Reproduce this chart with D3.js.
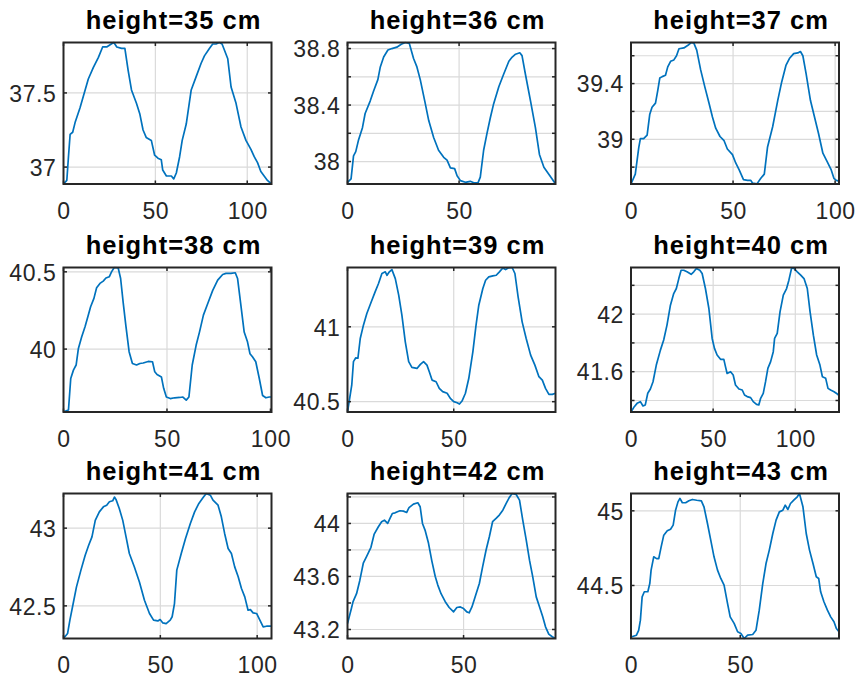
<!DOCTYPE html>
<html><head><meta charset="utf-8">
<script src="https://cdn.jsdelivr.net/npm/d3@7"></script>
<style>
body{margin:0;background:#fff;}
svg{display:block;}
text{font-family:"Liberation Sans",Arial,Helvetica,sans-serif;}
</style></head>
<body><svg id="chart" width="861" height="679"></svg>
<script>
// ---------- DATA ----------
const titles = ["height=35 cm","height=36 cm","height=37 cm","height=38 cm","height=39 cm","height=40 cm","height=41 cm","height=42 cm","height=43 cm"];

const x35 = [0,1.8,2.7,3.6,5,6.3,9,11.7,13.5,16.2,19,21.3,23.5,26,27.4,29,31.6,33.4,35.2,37,39.7,41.5,43.3,45,47.8,49.6,51.4,53.2,54,56,58.7,60,61.4,63.2,64.6,66.8,69.5,72.2,74.9,76.7,79.4,81.2,83,84.8,86.3,89.4,91.2,93.9,96.6,99.3,102,103.8,105.6,107.4,109.2,111,113.2];
const y35 = [36.886,36.91,37.07,37.22,37.235,37.30,37.40,37.516,37.594,37.67,37.74,37.81,37.81,37.83,37.84,37.81,37.80,37.80,37.65,37.52,37.43,37.36,37.25,37.20,37.18,37.08,37.06,37.05,36.98,36.94,36.94,36.92,36.96,37.07,37.18,37.29,37.52,37.61,37.70,37.75,37.80,37.83,37.83,37.84,37.83,37.73,37.54,37.43,37.27,37.18,37.12,37.07,37.03,36.97,36.94,36.91,36.886];

const x36 = [0,1.6,2.7,3.7,4.9,6.7,7.9,10.2,11.7,13.6,14.7,16.2,18.1,19.9,22.1,24.1,25.9,27.7,29.6,31.1,32.6,34.6,36.4,38.6,40.8,43.1,44.6,46.1,48,49.1,50.6,52.8,55,56.6,58.5,59.5,61,62.5,64,65.5,67.8,70,72.3,73.8,75.3,77.2,78.2,79.7,82,84.2,86,88,90.2,91.7,93.2];
const y36 = [37.853,37.877,38.04,38.07,38.15,38.24,38.34,38.43,38.50,38.58,38.67,38.74,38.79,38.80,38.81,38.83,38.843,38.836,38.73,38.67,38.58,38.43,38.29,38.17,38.08,38.03,38.01,37.955,37.95,37.90,37.865,37.853,37.86,37.85,37.851,37.89,38.08,38.20,38.31,38.41,38.53,38.62,38.71,38.74,38.76,38.77,38.75,38.62,38.43,38.24,38.05,37.96,37.91,37.877,37.841];

const x37 = [0,2.1,3.8,4.6,6.2,7.9,9.2,10.3,12,13.1,14.1,15.3,16.9,18,19.4,21,22.3,23.5,25.9,27.9,29.5,30.8,32.2,34.1,36.1,38.2,39.9,41.5,43.6,45.6,47.2,49.7,51.3,53,55.1,57.1,58.7,59.5,61.7,63.6,65.3,66.9,69.4,71.9,73.8,75.9,77.6,79.7,81.7,83,84.2,85.8,87.9,89.9,91.9,94,96.1,98.1,99.4,100.6,101.9];
const y37 = [38.679,38.75,38.94,39.005,39.005,39.03,39.18,39.23,39.26,39.35,39.44,39.45,39.46,39.52,39.56,39.57,39.60,39.65,39.656,39.675,39.695,39.69,39.64,39.50,39.38,39.26,39.16,39.08,39.02,38.99,38.93,38.89,38.83,38.78,38.71,38.705,38.705,38.686,38.68,38.72,38.75,38.945,39.09,39.28,39.41,39.53,39.58,39.615,39.62,39.63,39.60,39.47,39.28,39.16,39.04,38.90,38.84,38.78,38.72,38.705,38.70];

const x38 = [0,2.4,3.5,4.8,6.1,7.2,8.8,10.4,12,13.1,14.7,16,17.6,19.2,20.5,22.1,23.2,24.5,26.4,27.6,28.8,30.1,31.7,33.3,35.3,36.9,38.5,40.9,43,44.1,45.2,47.3,48.4,49.7,51.6,53.7,56.1,57.7,59.3,60.6,62.2,64.1,65.7,67.6,69.7,72.1,74.5,76.9,78.5,80.9,83,84.1,85.7,87.3,88.9,90.1,91.3,92.9,94.6,96.2,97.8,99.4,100.5];
const y38 = [39.595,39.606,39.81,39.864,39.897,40.004,40.08,40.144,40.22,40.274,40.328,40.397,40.425,40.44,40.46,40.468,40.50,40.528,40.526,40.457,40.306,40.155,39.983,39.907,39.897,39.907,39.91,39.92,39.918,39.853,39.836,39.82,39.746,39.69,39.68,39.685,39.687,39.69,39.67,39.69,39.897,40.026,40.11,40.22,40.295,40.38,40.446,40.483,40.49,40.49,40.494,40.457,40.284,40.11,40.047,39.97,39.95,39.918,39.81,39.70,39.685,39.69,39.69];

const x39 = [0,2,2.8,3.9,4.9,6,7.5,9.1,11.2,13,14.6,16.2,17.8,18.6,19.7,20.9,22.5,24.1,25.6,27.2,28.8,30.3,32.7,34.3,35.8,37.4,38.5,39.8,41.7,43.2,44.8,46.9,48.4,50,51.6,52.7,53.9,55.5,57.1,59,60.5,61.8,63.7,65,66.5,68.4,70,71.5,73.1,74.4,75.6,77.5,78.8,80.3,82.2,84.1,86.2,88.2,90.1,91.7,93.2,94.8,96.4,97.9];
const y39 = [40.431,40.61,40.767,40.793,40.79,40.922,41.011,41.089,41.167,41.233,41.289,41.356,41.367,41.344,41.367,41.382,41.322,41.211,41.078,40.90,40.767,40.729,40.722,40.749,40.767,40.744,40.70,40.644,40.633,40.589,40.567,40.556,40.522,40.50,40.493,40.484,40.504,40.556,40.656,40.833,41.011,41.144,41.256,41.311,41.333,41.34,41.344,41.367,41.393,41.382,41.393,41.396,41.356,41.20,41.033,40.922,40.811,40.744,40.667,40.644,40.589,40.549,40.549,40.556];

const x40 = [0,2,3.7,5.7,7.3,8.7,10.2,11.8,13.4,15.4,17.9,19.9,21.9,24,26,27.6,29.1,30.5,32.1,34.1,36.6,38.2,39.8,41.9,43.3,45.3,47.4,49.4,50.8,52.4,54.5,56.5,57.5,58.5,60.6,62.2,63.6,65.7,67.7,69.1,70.7,72.8,74.4,76.4,77.8,78.9,80.5,81.9,83.3,85,86.6,87.4,89,90.7,92.7,94.7,96.1,97.8,99.2,101.2,103.3,105.3,107.3,109,111,113,115,116.5,118.5,119.9,121.5,123.6,125.6,126.6];
const y40 = [41.32,41.357,41.38,41.392,41.362,41.369,41.45,41.48,41.53,41.646,41.75,41.82,41.924,42.062,42.143,42.178,42.247,42.305,42.305,42.294,42.277,42.294,42.317,42.305,42.282,42.178,42.039,41.831,41.762,41.716,41.686,41.686,41.635,41.588,41.60,41.577,41.508,41.48,41.473,41.438,41.427,41.42,41.392,41.373,41.369,41.415,41.45,41.531,41.623,41.67,41.739,41.831,41.866,42.016,42.132,42.178,42.236,42.322,42.317,42.294,42.271,42.247,42.178,42.016,41.854,41.716,41.646,41.565,41.554,41.484,41.473,41.461,41.445,41.433];

const x41 = [0,2.1,3.3,5,6.7,9,11.2,13,14.7,16.4,18.5,20.6,22.3,23.7,25.4,26.3,27.1,28.8,30.6,32.3,34,36.6,39.2,41.8,44.4,46.5,48.7,49.9,51.3,53,55.1,56.1,57.3,58.5,60.8,63,65.5,67.7,69.9,72,73.7,75.8,77.2,79.8,81.5,83.2,85,86.7,88.4,90.2,91.9,93.6,95.3,96.5,97.9,99.7,101.4,103.1,104.8,106.6,107.4];
const y41 = [42.29,42.322,42.408,42.515,42.622,42.73,42.826,42.89,42.944,43.05,43.105,43.137,43.148,43.17,43.176,43.20,43.185,43.127,43.05,42.944,42.837,42.75,42.654,42.536,42.451,42.408,42.403,42.412,42.39,42.386,42.408,42.43,42.515,42.73,42.837,42.933,43.03,43.105,43.159,43.195,43.223,43.212,43.18,43.148,43.073,42.966,42.869,42.837,42.751,42.687,42.612,42.558,42.472,42.476,42.455,42.451,42.408,42.365,42.369,42.369,42.369];

const x42 = [0,1.7,2.4,3.9,5.3,6.8,8.2,10.1,11.5,13.3,14.7,15.9,17.3,18.3,19.3,20.5,21.5,22.6,24.1,25.5,26.5,28.4,30.3,31.3,32.3,33.4,34.9,36.3,37.8,38.9,40.3,42.1,43.8,45.7,47.1,48.6,50,51.4,52.4,53.6,55,56.8,58.2,59.7,61.1,62.5,64,65.4,66.9,68.3,69.5,70.9,72.6,74.1,75.5,77,78.4,79.8,81.3,82.7,84.1,85.3,86.7,88.2,89.6];
const y42 = [43.245,43.36,43.41,43.47,43.57,43.70,43.75,43.82,43.92,43.975,44.013,44.025,44.0,44.038,44.075,44.08,44.088,44.096,44.093,44.083,44.12,44.146,44.156,44.126,44.0,43.95,43.85,43.72,43.60,43.535,43.47,43.41,43.366,43.333,43.366,43.37,43.358,43.333,43.326,43.37,43.447,43.547,43.673,43.80,43.90,44.013,44.038,44.063,44.10,44.15,44.19,44.226,44.22,44.176,44.025,43.874,43.723,43.597,43.446,43.371,43.296,43.22,43.165,43.145,43.132];

const x43 = [0,2.5,3.5,4.3,5.1,6.1,7.7,8.6,9.2,10.4,11.7,12.7,13.8,15,16.6,18.1,19.3,20.4,21.5,22.4,23.5,25,26.5,28.1,30.1,32.2,33.4,35,36.5,38,39.6,41.1,42.6,44.2,45.4,47.2,48.8,50.3,51.8,53.4,55.7,57.2,58.7,60.3,61.8,63.3,64.9,66.4,67.9,69.5,70.6,71.8,73,74.5,76.1,77.1,78.7,80.2,81.7,83.3,84.8,85.9,86.8,88.3,89.9,91.4,92.9,94,95.2];
const y43 = [44.155,44.167,44.20,44.268,44.424,44.458,44.458,44.513,44.603,44.692,44.68,44.68,44.759,44.837,44.866,44.877,44.904,45.004,45.06,45.083,45.054,45.054,45.067,45.076,45.071,45.067,45.027,44.915,44.804,44.692,44.603,44.547,44.502,44.379,44.29,44.246,44.19,44.179,44.145,44.167,44.172,44.20,44.335,44.513,44.647,44.737,44.848,44.938,44.993,45.004,45.038,45.009,45.049,45.071,45.094,45.116,45.027,44.848,44.737,44.647,44.558,44.547,44.458,44.391,44.335,44.29,44.257,44.212,44.19];

const xData = [x35,x36,x37,x38,x39,x40,x41,x42,x43];
const yData = [y35,y36,y37,y38,y39,y40,y41,y42,y43];

// axis limits (tight)
const xMax = [113.2,93.2,101.9,100.5,97.9,126.6,107.4,89.6,95.2];
const yMin = [36.886,37.841,38.679,39.593,40.431,41.320,42.290,43.132,44.145];
const yMax = [37.840,38.843,39.695,40.528,41.396,42.324,43.223,44.226,45.116];

// tick labels and grid lines
const xTickVals = [0,50,100];
const yTickLabels = [[37,37.5],[38,38.4,38.8],[39,39.4],[40,40.5],[40.5,41],[41.6,42],[42.5,43],[43.2,43.6,44],[44.5,45]];
const yGridVals = [[37,37.5],[37.8,38,38.2,38.4,38.6,38.8],[38.8,39,39.2,39.4,39.6],[40,40.5],[40.5,41],[41.4,41.6,41.8,42,42.2],[42.5,43],[43.2,43.4,43.6,43.8,44,44.2],[44.5,45]];

// ---------- LAYOUT ----------
const colLeft = [63.5, 347.5, 631];
const plotW = 208;
const rowTop = [42.5, 267.5, 493.5];
const rowH = [141.5, 144.5, 145];

const svg = d3.select("#chart");
const axisColor = "#262626";
const gridColor = "#dadada";
const lineColor = "#0072BD";

titles.forEach((t, i) => {
  const r = Math.floor(i / 3), c = i % 3;
  const L = colLeft[c], T = rowTop[r], W = plotW, H = rowH[r];
  const g = svg.append("g").attr("transform", `translate(${L},${T})`);
  const xs = d3.scaleLinear().domain([0, xMax[i]]).range([0, W]);
  const ys = d3.scaleLinear().domain([yMin[i], yMax[i]]).range([H, 0]);

  // grid
  const xg = xTickVals.filter(v => v > 0 && v < xMax[i]);
  g.selectAll(".xg").data(xg).enter().append("line")
    .attr("x1", d => xs(d)).attr("x2", d => xs(d)).attr("y1", 0).attr("y2", H)
    .attr("stroke", gridColor).attr("stroke-width", 1.2);
  const yg = yGridVals[i].filter(v => v > yMin[i] && v < yMax[i]);
  g.selectAll(".yg").data(yg).enter().append("line")
    .attr("x1", 0).attr("x2", W).attr("y1", d => ys(d)).attr("y2", d => ys(d))
    .attr("stroke", gridColor).attr("stroke-width", 1.2);

  // line
  const clipId = "clip" + i;
  g.append("clipPath").attr("id", clipId).append("rect").attr("x", -1).attr("y", -1).attr("width", W + 2).attr("height", H + 2);
  const pts = xData[i].map((x, k) => [x, yData[i][k]]);
  g.append("path").datum(pts)
    .attr("clip-path", `url(#${clipId})`)
    .attr("fill", "none").attr("stroke", lineColor).attr("stroke-width", 1.7)
    .attr("stroke-linejoin", "round")
    .attr("d", d3.line().x(d => xs(d[0])).y(d => ys(d[1])));

  // axes via d3 axis (ticks inside, labels outside)
  const xAxis = d3.axisBottom(xs).tickValues(xTickVals.filter(v => v <= xMax[i] + 0.6)).tickSize(0).tickPadding(30).tickFormat(d3.format("d"));
  const xa = g.append("g").attr("transform", `translate(0,${H})`).call(xAxis);
  const yAxis = d3.axisLeft(ys).tickValues(yTickLabels[i]).tickSize(0).tickPadding(7).tickFormat(d => String(d));
  const ya = g.append("g").call(yAxis);
  [xa, ya].forEach(a => {
    a.select(".domain").remove();
    a.selectAll("text").attr("fill", axisColor).style("font-size", "23px").style("letter-spacing", "0.6px");
  });
  xa.selectAll("text").attr("dy", "0.2em");
  ya.selectAll("text").attr("dy", "0.36em");

  // inner tick marks on all four sides
  const tl = 3.5;
  const xt = xTickVals.filter(v => v >= 0 && v <= xMax[i]);
  xt.forEach(v => {
    g.append("line").attr("x1", xs(v)).attr("x2", xs(v)).attr("y1", H).attr("y2", H - tl).attr("stroke", axisColor).attr("stroke-width", 1.5);
    g.append("line").attr("x1", xs(v)).attr("x2", xs(v)).attr("y1", 0).attr("y2", tl).attr("stroke", axisColor).attr("stroke-width", 1.5);
  });
  yGridVals[i].filter(v => v >= yMin[i] && v <= yMax[i]).forEach(v => {
    g.append("line").attr("x1", 0).attr("x2", tl).attr("y1", ys(v)).attr("y2", ys(v)).attr("stroke", axisColor).attr("stroke-width", 1.5);
    g.append("line").attr("x1", W).attr("x2", W - tl).attr("y1", ys(v)).attr("y2", ys(v)).attr("stroke", axisColor).attr("stroke-width", 1.5);
  });

  // box
  g.append("rect").attr("x", 0).attr("y", 0).attr("width", W).attr("height", H)
    .attr("fill", "none").attr("stroke", axisColor).attr("stroke-width", 2);

  // title
  g.append("text").attr("x", W / 2 + 6).attr("y", -13.5)
    .attr("text-anchor", "middle").attr("fill", "#000")
    .style("font-size", "25.5px").style("font-weight", "bold").style("letter-spacing", "1px")
    .text(t);
});
</script></body></html>
